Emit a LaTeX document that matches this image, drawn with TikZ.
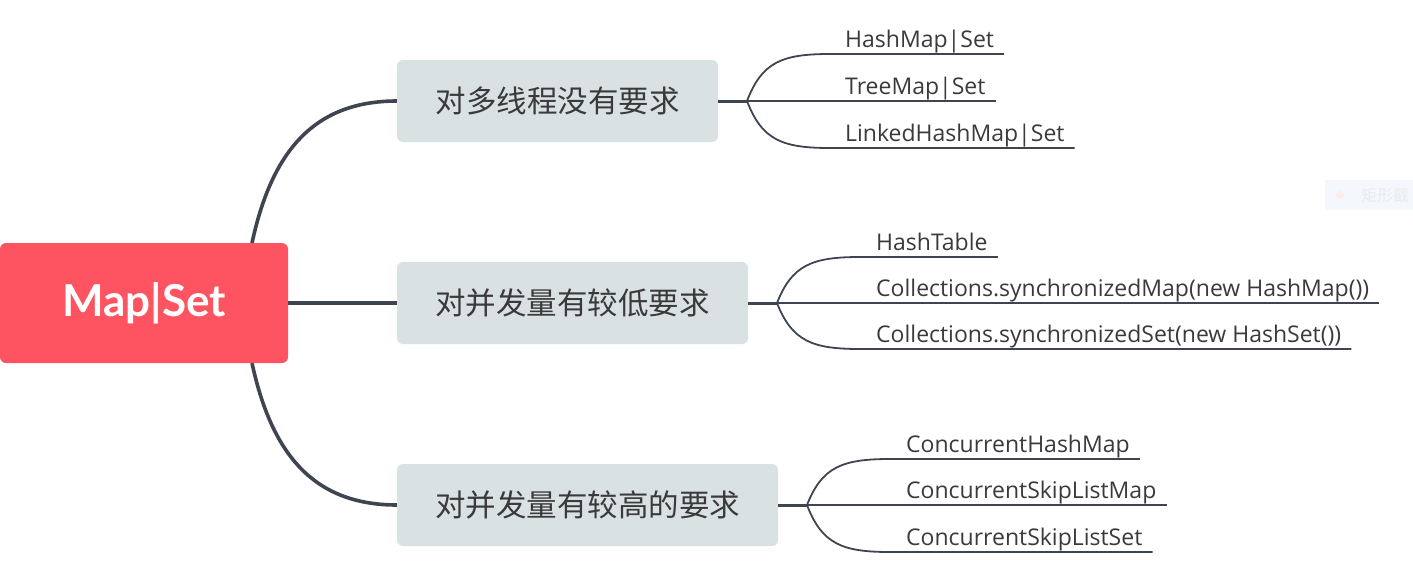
\documentclass[tikz,border=0pt]{standalone}
\usepackage{fontspec}
\setmainfont{Open Sans}
\newfontfamily\latofont{Lato}
\newfontfamily\cjk{Noto Sans CJK SC}
\usetikzlibrary{calc}
\definecolor{rootred}{HTML}{FE5360}
\definecolor{boxgray}{HTML}{DAE1E3}
\definecolor{linecol}{HTML}{3F4550}
\definecolor{txtcol}{HTML}{3A3A3A}
\definecolor{artifact}{HTML}{F4F8FD}
\begin{document}
\begin{tikzpicture}[x=1pt,y=-1pt,
  rootbox/.style={fill=rootred,rounded corners=6pt,minimum width=288pt,minimum height=120pt,inner sep=0pt,text=white,font=\latofont\fontsize{44}{44}\selectfont\bfseries},
  topic/.style={fill=boxgray,rounded corners=6pt,minimum height=82pt,inner sep=0pt,text=txtcol,font=\cjk\fontsize{30.5}{30.5}\selectfont},
  leaf/.style={anchor=base west,inner xsep=10pt,inner ysep=0pt,text=txtcol,font=\fontsize{23}{23}\selectfont},
  mainline/.style={draw=linecol,line width=3.6pt},
  subline/.style={draw=linecol,line width=1.8pt},
  stem/.style={draw=linecol,line width=3pt}]
\useasboundingbox (0,0) rectangle (1413,576);
\clip (0,0) rectangle (1413,576);
% faint artifact
\fill[artifact] (1325,180) rectangle (1413,210);
\fill[white!92!red] (1340,195) circle (4pt);
\node[anchor=west,text=black!8,font=\cjk\fontsize{16}{16}\selectfont,inner sep=0pt] (art) at (1361,195) {矩形截};
% connectors from root
\coordinate (r1) at (252,243);
\coordinate (r3) at (252,363);
\draw[mainline] (r1) .. controls (272,150) and (315,101) .. (397,101);
\draw[mainline] (r3) .. controls (272,456) and (315,505) .. (397,505);
\draw[mainline] (288,303) -- (397,303);
% root
\node[rootbox] (root) at (144,303) {Map|Set};
% topics
\node[topic,minimum width=321pt] (b1) at (557.5,101) {对多线程没有要求};
\node[topic,minimum width=351pt] (b2) at (572.5,303) {对并发量有较低要求};
\node[topic,minimum width=381pt] (b3) at (587.5,505) {对并发量有较高的要求};
% fork points
\coordinate (f1) at (747,101);
\coordinate (f2) at (777,303);
\coordinate (f3) at (807,505);
\draw[stem] (b1.east) -- (f1);
\draw[stem] (b2.east) -- (f2);
\draw[stem] (b3.east) -- (f3);
% leaves group 1
\node[leaf] (l11) at (835,47) {HashMap|Set};
\node[leaf] (l12) at (835,94) {TreeMap|Set};
\node[leaf] (l13) at (835,141) {LinkedHashMap|Set};
\draw[subline] (f1) .. controls (762,62) and (782,54) .. (830,54) -- ($(l11.base east)+(0,7)$);
\draw[subline] (f1) -- ($(l12.base east)+(0,7)$);
\draw[subline] (f1) .. controls (762,140) and (782,148) .. (830,148) -- ($(l13.base east)+(0,7)$);
% leaves group 2
\node[leaf] (l21) at (866,250) {HashTable};
\node[leaf] (l22) at (866,296) {Collections.synchronizedMap(new HashMap())};
\node[leaf] (l23) at (866,342) {Collections.synchronizedSet(new HashSet())};
\draw[subline] (f2) .. controls (792,265) and (812,257) .. (860,257) -- ($(l21.base east)+(0,7)$);
\draw[subline] (f2) -- ($(l22.base east)+(0,7)$);
\draw[subline] (f2) .. controls (792,341) and (812,349) .. (860,349) -- ($(l23.base east)+(0,7)$);
% leaves group 3
\node[leaf] (l31) at (896,452) {ConcurrentHashMap};
\node[leaf] (l32) at (896,498) {ConcurrentSkipListMap};
\node[leaf] (l33) at (896,545) {ConcurrentSkipListSet};
\draw[subline] (f3) .. controls (822,467) and (842,459) .. (890,459) -- ($(l31.base east)+(0,7)$);
\draw[subline] (f3) -- ($(l32.base east)+(0,7)$);
\draw[subline] (f3) .. controls (822,544) and (842,552) .. (890,552) -- ($(l33.base east)+(0,7)$);
\end{tikzpicture}
\end{document}
